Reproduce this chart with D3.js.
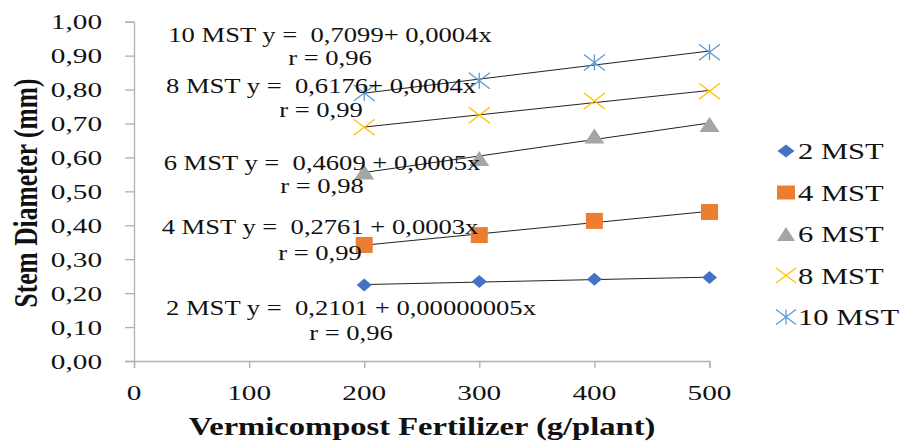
<!DOCTYPE html>
<html>
<head>
<meta charset="utf-8">
<script src="https://cdn.jsdelivr.net/npm/d3@7"></script>
<style>
  body { margin: 0; background: #fff; }
  text { font-family: "Liberation Serif", "Times New Roman", serif; fill: #111; }
</style>
</head>
<body>
<div id="vis"></div>
<script>
// data
const fertilizer = [200, 300, 400, 500];
const mst2 = [0.224, 0.234, 0.241, 0.246];
const mst4 = [0.342, 0.371, 0.413, 0.439];
const mst6 = [0.557, 0.597, 0.663, 0.697];
const mst8 = [0.689, 0.724, 0.766, 0.795];
const mst10 = [0.790, 0.826, 0.880, 0.910];

const seriesNames = ['2 MST', '4 MST', '6 MST', '8 MST', '10 MST'];
const seriesValues = [mst2, mst4, mst6, mst8, mst10];
const equations = [
  ['2 MST y =  0,2101 + 0,00000005x', 'r = 0,96'],
  ['4 MST y =  0,2761 + 0,0003x', 'r = 0,99'],
  ['6 MST y =  0,4609 + 0,0005x', 'r = 0,98'],
  ['8 MST y =  0,6176+ 0,0004x', 'r = 0,99'],
  ['10 MST y =  0,7099+ 0,0004x', 'r = 0,96']
];
const xTicks = [0, 100, 200, 300, 400, 500];
const yTicks = [0, 0.1, 0.2, 0.3, 0.4, 0.5, 0.6, 0.7, 0.8, 0.9, 1.0];

const colors = ['#4472C4', '#ED7D31', '#A5A5A5', '#FFC000', '#5B9BD5'];
const shapes = ['diamond', 'square', 'triangle', 'x', 'star'];
// label placement (centre x, first baseline, second baseline)
const labelPos = [[351, 315, 340], [320, 234, 260], [322, 170, 193], [321, 93, 117], [330, 42, 65]];

const W = 906, H = 443;
const SX = 1.33;  // the picture's text is stretched sideways

const svg = d3.select('#vis')
  .append('svg')
  .attr('width', W)
  .attr('height', H);

const xScale = d3.scaleLinear().domain([0, 500]).range([134, 709.5]);
const yScale = d3.scaleLinear().domain([0, 1]).range([361, 21.7]);

function addText(g, x, y, str, size, anchor, bold) {
  return g.append('text')
    .attr('transform', `translate(${x},${y}) scale(${SX},1)`)
    .attr('text-anchor', anchor)
    .style('font-size', size + 'px')
    .style('font-weight', bold ? 'bold' : 'normal')
    .style('white-space', 'pre')
    .text(str);
}

function markerPath(shape, w, h) {
  const a = w / 2, b = h / 2;
  if (shape === 'diamond') return `M0,${-b}L${a},0L0,${b}L${-a},0Z`;
  if (shape === 'square') return `M${-a},${-b}H${a}V${b}H${-a}Z`;
  if (shape === 'triangle') return `M0,${-b}L${a},${b}H${-a}Z`;
  if (shape === 'x') return `M${-a},${-b}L${a},${b}M${a},${-b}L${-a},${b}`;
  return `M${-a},${-b}L${a},${b}M${a},${-b}L${-a},${b}M0,${-b}V${b}`;
}
const plotSize = {diamond: [15, 13], square: [17, 16], triangle: [20, 15], x: [21, 16], star: [21, 16]};
const legendSize = {diamond: [17, 13], square: [18, 14], triangle: [18, 14], x: [20, 15], star: [20, 15]};

function drawMarker(g, shape, color, x, y, size) {
  const filled = shape !== 'x' && shape !== 'star';
  g.append('path')
    .attr('transform', `translate(${x},${y})`)
    .attr('d', markerPath(shape, size[0], size[1]))
    .attr('fill', filled ? color : 'none')
    .attr('stroke', filled ? 'none' : color)
    .attr('stroke-width', 1.3);
}

// axes
const axisColor = '#b0b0b0';
const yAxis = svg.append('g')
  .attr('transform', `translate(${xScale(0)},0)`)
  .call(d3.axisLeft(yScale).tickValues(yTicks).tickSize(9).tickFormat(() => ''));
const xAxis = svg.append('g')
  .attr('transform', `translate(0,${yScale(0)})`)
  .call(d3.axisBottom(xScale).tickValues(xTicks).tickSize(7).tickFormat(() => ''));
[xAxis, yAxis].forEach(ax => {
  ax.select('.domain').attr('stroke', axisColor).attr('stroke-width', 1.3);
  ax.selectAll('.tick line').attr('stroke', axisColor).attr('stroke-width', 1.3);
});

const labels = svg.append('g');
yTicks.forEach(v => {
  addText(labels, 102, yScale(v) + 7.5, d3.format('.2f')(v).replace('.', ','), 22, 'end');
});
xTicks.forEach(v => {
  addText(labels, xScale(v), 400, String(v), 22, 'middle');
});

// axis titles
addText(svg, 422, 435, 'Vermicompost Fertilizer (g/plant)', 24.5, 'middle', true);
svg.append('text')
  .attr('transform', `translate(37,193) rotate(-90) scale(1,${SX})`)
  .attr('text-anchor', 'middle')
  .style('font-size', '25.5px')
  .style('font-weight', 'bold')
  .text('Stem Diameter (mm)');

// trendlines (least squares) and markers
const plot = svg.append('g');
seriesValues.forEach((vals, i) => {
  const pts = fertilizer.map((x, j) => [x, vals[j]]);
  const mx = d3.mean(fertilizer), my = d3.mean(vals);
  const slope = d3.sum(pts, p => (p[0] - mx) * (p[1] - my)) / d3.sum(pts, p => (p[0] - mx) ** 2);
  const icpt = my - slope * mx;
  const x0 = d3.min(fertilizer), x1 = d3.max(fertilizer);
  plot.append('line')
    .attr('x1', xScale(x0)).attr('y1', yScale(icpt + slope * x0))
    .attr('x2', xScale(x1)).attr('y2', yScale(icpt + slope * x1))
    .attr('stroke', '#222')
    .attr('stroke-width', 1);
});
seriesValues.forEach((vals, i) => {
  fertilizer.forEach((x, j) => {
    drawMarker(plot, shapes[i], colors[i], xScale(x), yScale(vals[j]), plotSize[shapes[i]]);
  });
});

// equation labels
equations.forEach((eq, i) => {
  const [cx, b1, b2] = labelPos[i];
  addText(svg, cx, b1, eq[0], 20, 'middle');
  addText(svg, cx, b2, eq[1], 20, 'middle');
});

// legend
const legend = svg.append('g');
seriesNames.forEach((name, i) => {
  const cy = 151 + i * 41.5;
  drawMarker(legend, shapes[i], colors[i], 786, cy, legendSize[shapes[i]]);
  addText(legend, 798, cy + 8, name, 23, 'start');
});
</script>
</body>
</html>
